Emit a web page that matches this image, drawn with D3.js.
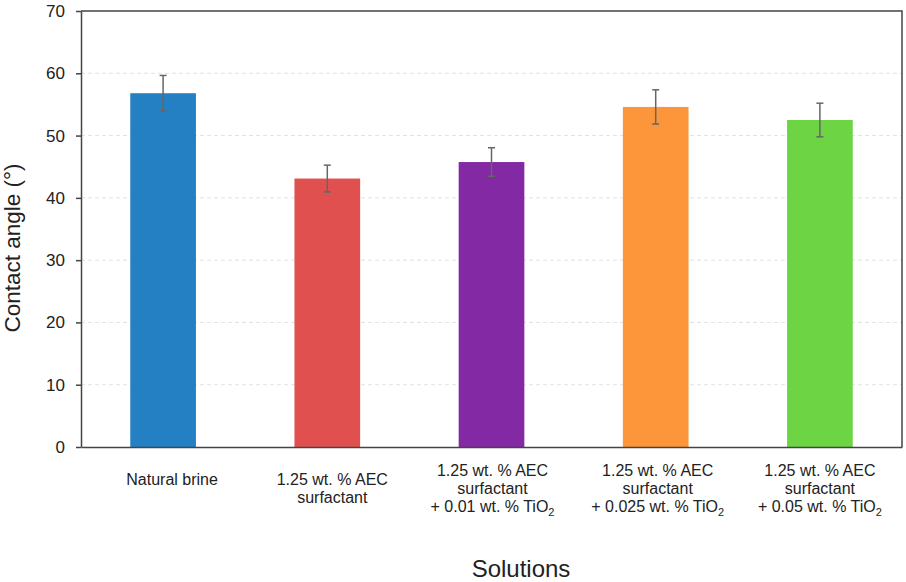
<!DOCTYPE html>
<html>
<head>
<meta charset="utf-8">
<script src="https://cdn.jsdelivr.net/npm/d3@7"></script>
<style>
  html, body { margin: 0; padding: 0; background: #fff; }
  svg { display: block; font-family: Arial, "Liberation Sans", sans-serif; }
</style>
</head>
<body>
<svg id="chart" width="906" height="582"></svg>
<script>
// ---- data ----
const categories = ["Natural brine", "AEC", "AEC+0.01", "AEC+0.025", "AEC+0.05"];
const labelLines = [
  ["Natural brine"],
  ["1.25 wt. % AEC", "surfactant"],
  ["1.25 wt. % AEC", "surfactant", "+ 0.01 wt. % TiO{2}"],
  ["1.25 wt. % AEC", "surfactant", "+ 0.025 wt. % TiO{2}"],
  ["1.25 wt. % AEC", "surfactant", "+ 0.05 wt. % TiO{2}"]
];
const values = [56.8, 43.1, 45.75, 54.6, 52.5];
const errors = [2.85, 2.15, 2.3, 2.75, 2.7];
const colors = ["#2580c3", "#e0504e", "#8229a3", "#fd953b", "#6dd443"];
const yTicks = [0, 10, 20, 30, 40, 50, 60, 70];
const yTitle = "Contact angle (°)";
const xTitle = "Solutions";

// ---- layout ----
const mLeft = 81, mRight = 902, mTop = 11, mBottom = 447;
const labelDx = [9, 5, 1, 2, 0];
const svg = d3.select("#chart");

const x = d3.scaleBand().domain(categories).range([mLeft, mRight]).padding(0);
const y = d3.scaleLinear().domain([0, 70]).range([mBottom, mTop]);
const barW = x.bandwidth() * 0.4;

// gridlines
svg.append("g").selectAll("line")
  .data(yTicks.filter(t => t > 0 && t < 70))
  .join("line")
  .attr("x1", mLeft).attr("x2", mRight)
  .attr("y1", d => y(d)).attr("y2", d => y(d))
  .attr("stroke", "#e2e2e2").attr("stroke-width", 1)
  .attr("stroke-dasharray", "4,3");

// bars
svg.append("g").selectAll("rect")
  .data(values)
  .join("rect")
  .attr("x", (d, i) => x(categories[i]) + (x.bandwidth() - barW) / 2)
  .attr("width", barW)
  .attr("y", d => y(d))
  .attr("height", d => y(0) - y(d))
  .attr("fill", (d, i) => colors[i]);

// error bars
const eg = svg.append("g").attr("stroke", "#666").attr("stroke-width", 1.5);
values.forEach((v, i) => {
  const cx = x(categories[i]) + x.bandwidth() / 2;
  const y1 = y(v + errors[i]), y2 = y(v - errors[i]);
  eg.append("line").attr("x1", cx).attr("x2", cx).attr("y1", y1).attr("y2", y2);
  eg.append("line").attr("x1", cx - 3.5).attr("x2", cx + 3.5).attr("y1", y1).attr("y2", y1);
  eg.append("line").attr("x1", cx - 3.5).attr("x2", cx + 3.5).attr("y1", y2).attr("y2", y2);
});

// frame (top & right)
svg.append("path")
  .attr("d", `M${mLeft},${mTop}H${mRight}V${mBottom}`)
  .attr("fill", "none").attr("stroke", "#444").attr("stroke-width", 1.5);

// y axis
const yAxis = svg.append("g")
  .attr("transform", `translate(${mLeft},0)`)
  .call(d3.axisLeft(y).tickValues(yTicks).tickSize(5).tickSizeOuter(0).tickPadding(11));
yAxis.select(".domain").attr("stroke", "#444").attr("stroke-width", 1.5);
yAxis.selectAll(".tick line").attr("stroke", "#444").attr("stroke-width", 1.5);
yAxis.selectAll(".tick text").attr("font-size", 17).attr("fill", "#222")
  .attr("font-family", "Arial, 'Liberation Sans', sans-serif");

// x axis line
const xAxis = svg.append("g")
  .attr("transform", `translate(0,${mBottom})`)
  .call(d3.axisBottom(x).tickSize(0).tickSizeOuter(0).tickFormat(""));
xAxis.select(".domain").attr("stroke", "#444").attr("stroke-width", 1.5);

// x category labels
const lg = svg.append("g").attr("font-size", 16).attr("fill", "#222").attr("text-anchor", "middle");
labelLines.forEach((lines, i) => {
  const cx = x(categories[i]) + x.bandwidth() / 2 + labelDx[i];
  const n = lines.length;
  const y0 = n === 1 ? 485 : 494 - (n - 1) * 9;
  lines.forEach((line, j) => {
    const t = lg.append("text").attr("x", cx).attr("y", y0 + j * 18);
    const parts = line.split("{2}");
    t.append("tspan").text(parts[0]);
    if (parts.length > 1) {
      t.append("tspan").attr("font-size", 11).attr("dy", 4).text("2");
    }
  });
});

// axis titles
svg.append("text")
  .attr("transform", `translate(20,248) rotate(-90)`)
  .attr("text-anchor", "middle").attr("font-size", 22.5).attr("fill", "#222")
  .text(yTitle);

svg.append("text")
  .attr("x", 521).attr("y", 577)
  .attr("text-anchor", "middle").attr("font-size", 24).attr("fill", "#222")
  .text(xTitle);
</script>
</body>
</html>
